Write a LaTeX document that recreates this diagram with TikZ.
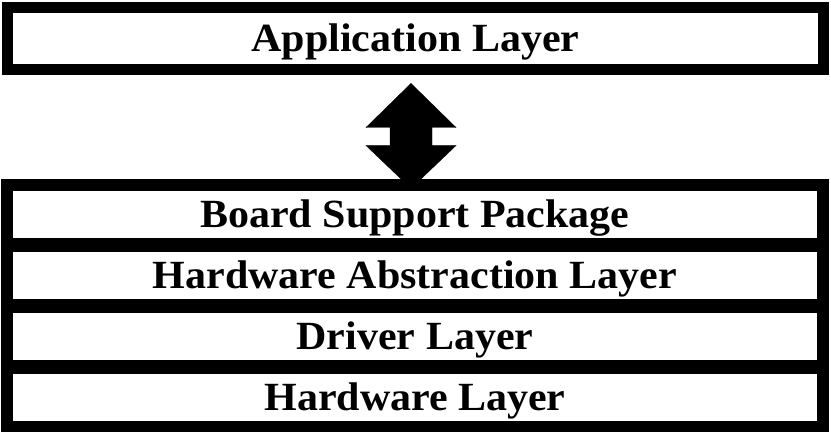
\documentclass[tikz,border=0pt]{standalone}
\usepackage{fontspec}
\setmainfont{Liberation Serif}[FakeStretch=1.05]
\usetikzlibrary{positioning, fit, backgrounds}
\tikzstyle{layer}=[fill=white,rectangle,minimum width=804pt,minimum height=47pt,inner sep=0pt,text height=26.5pt,text depth=0pt]
\tikzstyle{every node}=[font=\fontsize{40}{44}\selectfont\bfseries]

\begin{document}
\begin{tikzpicture}[x=1pt, y=-1pt, node distance=13.5pt]
            \useasboundingbox (0,0) rectangle (831,435);
            \node[layer, draw, line width=11pt, minimum width=816pt, minimum height=62pt] (app) at (415.5,38.5) {Application Layer};
            \node[layer] (bsp) at (415,214.5) {Board Support Package};
            \node[layer, below=of bsp] (hal) {Hardware Abstraction Layer};
            \node[layer, below=of hal] (drv) {Driver Layer};
            \node[layer, below=of drv] (hw) {Hardware Layer};
            \begin{scope}[on background layer]
                \node[fill=black, inner sep=11.5pt, fit=(bsp)(hw)] (stack) {};
            \end{scope}
            \draw[fill=black] ([xshift=-4.5pt, yshift=-8.5pt]app.south) -- ++(45,44) -- ++(-24,0) -- ++(0,18) -- ++(24,0)
                -- ++(-45,43) -- ++(-45,-43) -- ++(24,0) -- ++(0,-18) -- ++(-24,0) -- cycle;
        \end{tikzpicture}
\end{document}
